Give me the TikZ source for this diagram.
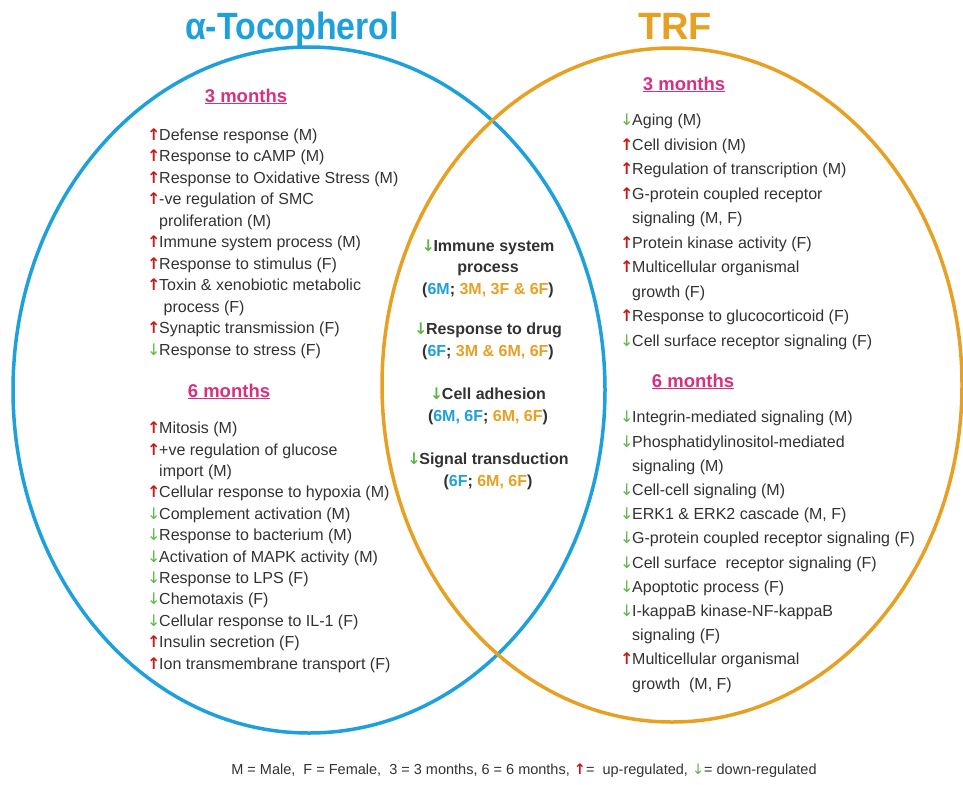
\documentclass[tikz,border=0pt]{standalone}
\usepackage{fontspec}
\setmainfont{Liberation Sans}
\newfontfamily\arrowfont{DejaVu Sans}

\definecolor{tocoblue}{RGB}{30,160,220}
\definecolor{trforange}{RGB}{232,160,35}
\definecolor{monthpink}{RGB}{214,48,128}
\definecolor{upred}{RGB}{200,25,25}
\definecolor{downgreen}{RGB}{90,185,70}
\definecolor{textgray}{RGB}{50,50,50}

\newcommand{\upreg}{\makebox[12pt][l]{\color{upred}\arrowfont\bfseries ↑}}
\newcommand{\downreg}{\makebox[12pt][l]{\color{downgreen}\arrowfont ↓}}
\newcommand{\goindent}{\hspace*{12pt}}
\newcommand{\tcb}[1]{{\color{tocoblue}#1}}
\newcommand{\tro}[1]{{\color{trforange}#1}}

\tikzset{
  setline/.style={line width=3.5pt},
  settitle/.style={font=\fontsize{38}{40}\selectfont\bfseries, inner sep=0pt, anchor=base},
  monthhead/.style={font=\fontsize{18.5}{20}\selectfont\bfseries, text=monthpink, inner sep=0pt, anchor=base},
  % lists are placed by the baseline of their last line
  golist/.style={font=\fontsize{16}{21.5}\selectfont, text=textgray, align=left, inner sep=0pt, anchor=base west},
  shared/.style={font=\fontsize{16}{21.5}\selectfont\bfseries, text=textgray, align=center, inner sep=0pt, anchor=base}
}

\begin{document}
\begin{tikzpicture}[x=1pt, y=-1pt]

\useasboundingbox (0,0) rectangle (963,784);

% circles
\draw[setline, tocoblue] (309,390) ellipse [x radius=296, y radius=343];
\draw[setline, trforange] (672,385) ellipse [x radius=290, y radius=337];

% titles
\node[settitle, text=tocoblue] (tocotitle) at (292,40)
{\scalebox{0.89}[1]{α-Tocopherol}};
\node[settitle, text=trforange] (trftitle) at (675,40)
{TRF};

% alpha-tocopherol, 3 months
\node[monthhead] (toco3head) at (246,102) {\underline{3 months}};
\node[golist] (toco3list) at (147,355)
{\upreg Defense response (M)\\
\upreg Response to cAMP (M)\\
\upreg Response to Oxidative Stress (M)\\
\upreg -ve regulation of SMC\\
\goindent proliferation (M)\\
\upreg Immune system process (M)\\
\upreg Response to stimulus (F)\\
\upreg Toxin \& xenobiotic metabolic\\
\goindent\ process (F)\\
\upreg Synaptic transmission (F)\\
\downreg Response to stress (F)};

% alpha-tocopherol, 6 months
\node[monthhead] (toco6head) at (229,397) {\underline{6 months}};
\node[golist, font=\fontsize{16}{21.4}\selectfont] (toco6list) at (147,669)
{\upreg Mitosis (M)\\
\upreg +ve regulation of glucose\\
\goindent import (M)\\
\upreg Cellular response to hypoxia (M)\\
\downreg Complement activation (M)\\
\downreg Response to bacterium (M)\\
\downreg Activation of MAPK activity (M)\\
\downreg Response to LPS (F)\\
\downreg Chemotaxis (F)\\
\downreg Cellular response to IL-1 (F)\\
\upreg Insulin secretion (F)\\
\upreg Ion transmembrane transport (F)};

% shared
\node[shared] (immune) at (488,294)
{\downreg Immune system\\
process\\
(\tcb{6M}; \tro{3M, 3F \& 6F})};
\node[shared] (drug) at (488,356)
{\downreg Response to drug\\
(\tcb{6F}; \tro{3M \& 6M, 6F})};
\node[shared] (adhesion) at (488,421)
{\downreg Cell adhesion\\
(\tcb{6M, 6F}; \tro{6M, 6F})};
\node[shared] (signal) at (488,486)
{\downreg Signal transduction\\
(\tcb{6F}; \tro{6M, 6F})};

% TRF, 3 months
\node[monthhead] (trf3head) at (684,90) {\underline{3 months}};
\node[golist, font=\fontsize{16}{24.5}\selectfont] (trf3list) at (620,346)
{\downreg Aging (M)\\
\upreg Cell division (M)\\
\upreg Regulation of transcription (M)\\
\upreg G-protein coupled receptor\\
\goindent signaling (M, F)\\
\upreg Protein kinase activity (F)\\
\upreg Multicellular organismal\\
\goindent growth (F)\\
\upreg Response to glucocorticoid (F)\\
\downreg Cell surface receptor signaling (F)};

% TRF, 6 months
\node[monthhead] (trf6head) at (693,387) {\underline{6 months}};
\node[golist, font=\fontsize{16}{24.2}\selectfont] (trf6list) at (620,689)
{\downreg Integrin-mediated signaling (M)\\
\downreg Phosphatidylinositol-mediated\\
\goindent signaling (M)\\
\downreg Cell-cell signaling (M)\\
\downreg ERK1 \& ERK2 cascade (M, F)\\
\downreg G-protein coupled receptor signaling (F)\\
\downreg Cell surface\ \ receptor signaling (F)\\
\downreg Apoptotic process (F)\\
\downreg I-kappaB kinase-NF-kappaB\\
\goindent signaling (F)\\
\upreg Multicellular organismal\\
\goindent growth\ \ (M, F)};

% key
\node[font=\fontsize{14.5}{16}\selectfont, text=textgray, inner sep=0pt] (key) at (524,771)
{M = Male,\ \ F = Female,\ \ 3 = 3 months, 6 = 6 months, {\color{upred}\arrowfont\bfseries ↑}=\ \ up-regulated, {\color{downgreen}\arrowfont ↓}= down-regulated};

\end{tikzpicture}
\end{document}
